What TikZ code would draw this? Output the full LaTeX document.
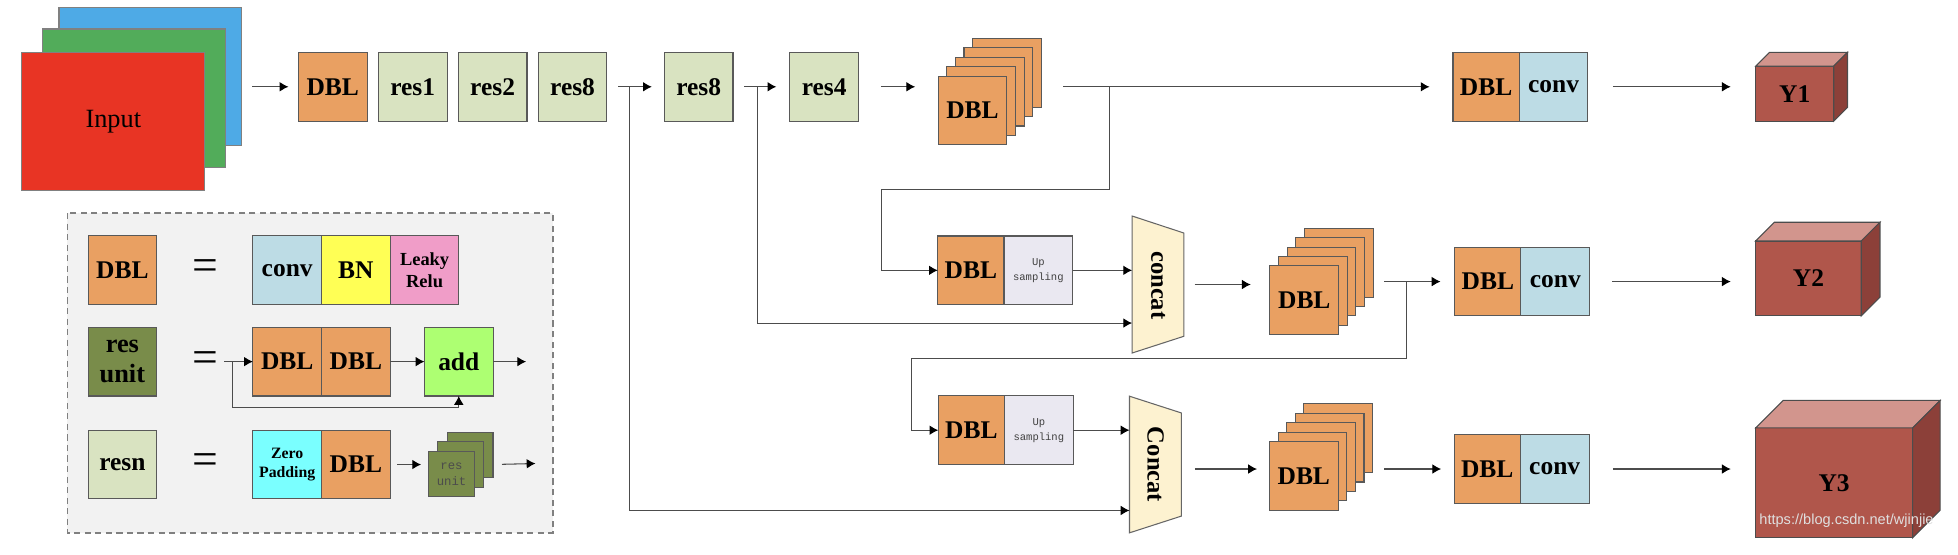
\documentclass[tikz,border=0pt]{standalone}
\usepackage{fontspec}
\setmainfont{Liberation Serif}
\newfontfamily\monof{Liberation Mono}
\newfontfamily\sansf{Liberation Sans}
\usepackage{tikz}
\usepackage{xcolor}
\usetikzlibrary{arrows.meta, calc, positioning}
\definecolor{cdbl}{RGB}{233,160,98}
\definecolor{cres}{RGB}{217,227,193}
\definecolor{cconv}{RGB}{189,220,229}
\definecolor{cup}{RGB}{234,232,241}
\definecolor{ccat}{RGB}{253,242,208}
\definecolor{cyf}{RGB}{176,86,75}
\definecolor{cyt}{RGB}{210,149,141}
\definecolor{cys}{RGB}{140,64,57}
\definecolor{cbn}{RGB}{255,255,85}
\definecolor{crelu}{RGB}{240,157,200}
\definecolor{cresu}{RGB}{121,140,74}
\definecolor{cadd}{RGB}{173,255,114}
\definecolor{czero}{RGB}{122,255,255}
\definecolor{cbg}{RGB}{242,242,242}
\definecolor{cred}{RGB}{232,52,36}
\definecolor{cgreen}{RGB}{82,172,90}
\definecolor{cblue}{RGB}{78,170,230}
\newcommand{\bigeq}[0]{\fontsize{26}{26}\selectfont =}

\begin{document}
\begin{tikzpicture}[x=0.025cm, y=-0.025cm,
    >={Latex[length=5pt, width=5.5pt, color=black]},
    blk/.style={draw=black!65, line width=0.6pt, inner sep=0pt, outer sep=0pt, align=center,
        minimum width=1.375cm, minimum height=1.375cm, font=\bfseries\fontsize{14.5}{17}\selectfont},
    dbl/.style={blk, fill=cdbl},
    res/.style={blk, fill=cres},
    conv/.style={blk, fill=cconv},
    upsm/.style={blk, fill=cup, text=black!75, font=\monof\fontsize{6}{8.5}\selectfont},
    layer/.style={draw=black!50, line width=0.6pt, minimum width=3.6625cm, minimum height=2.7625cm},
    ybox/.style={draw=black!70, line width=0.6pt, fill=cyf, outer sep=0pt, font=\bfseries\fontsize{14.5}{17}\selectfont},
    ytop/.style={draw=black!70, line width=0.6pt, fill=cyt},
    yside/.style={draw=black!70, line width=0.6pt, fill=cys},
    cat/.style={draw=black!60, line width=0.6pt, fill=ccat},
    arr/.style={draw=black!70, line width=0.6pt, ->}]
    \useasboundingbox (0,0) rectangle (1568,443.7);

    \node[layer, fill=cblue] (0) at (120.5,61) {};
    \node[layer, fill=cgreen] (1) at (107,78.5) {};
    \node[layer, fill=cred, font=\fontsize{15}{17}\selectfont] (2) at (90.75,97.25) {Input};

    \node[dbl] (3) at (266.5,69.5) {DBL};
    \node[res] (4) at (330.5,69.5) {res1};
    \node[res] (5) at (394.5,69.5) {res2};
    \node[res] (6) at (458.5,69.5) {res8};
    \node[res] (7) at (559.5,69.5) {res8};
    \node[res] (8) at (660,69.5) {res4};
    \foreach \k in {4,...,1}
        \node[dbl] (9-\k) at (778.8+\k*6.9, 88.4-\k*7.5) {};
    \node[dbl] (9) at (778.8,88.4) {DBL};

    \node[dbl, minimum width=1.325cm] (10) at (1190.1,69.5) {DBL};
    \node[conv, right=0pt of 10] (11) {conv};
    \node[ybox, minimum width=1.5625cm, minimum height=1.1cm] (12) at (1437.25,75) {Y1};
    \draw[ytop] (12.north west) -- ++(11,-11) -- ($(12.north east)+(11,-11)$) -- (12.north east) -- cycle;
    \draw[yside] (12.north east) -- ++(11,-11) -- ($(12.south east)+(11,-11)$) -- (12.south east) -- cycle;

    \node[dbl, minimum width=1.325cm] (13) at (777.5,216.5) {DBL};
    \node[upsm, right=0pt of 13] (14) {Up\\sampling};
    \node[minimum width=1.035cm, minimum height=2.7425cm, inner sep=0pt, outer sep=0pt] (15) at (927.3,227.85) {};
    \draw[cat] (15.north west) -- ($(15.north east)+(0,13.6)$) -- ($(15.south east)+(0,-13.4)$) -- (15.south west) -- cycle;
    \node[rotate=-90, font=\bfseries\fontsize{14}{16}\selectfont] (16) at (927.5,228.5) {concat};
    \foreach \k in {4,...,1}
        \node[dbl] (17-\k) at (1044.5+\k*6.9, 240.5-\k*7.5) {};
    \node[dbl] (17) at (1044.5,240.5) {DBL};
    \node[dbl, minimum width=1.325cm] (18) at (1191.5,225.5) {DBL};
    \node[conv, right=0pt of 18] (19) {conv};
    \node[ybox, minimum width=2.1125cm, minimum height=1.5cm] (20) at (1448.25,223) {Y2};
    \draw[ytop] (20.north west) -- ++(15,-15) -- ($(20.north east)+(15,-15)$) -- (20.north east) -- cycle;
    \draw[yside] (20.north east) -- ++(15,-15) -- ($(20.south east)+(15,-15)$) -- (20.south east) -- cycle;

    \node[dbl, minimum width=1.325cm] (21) at (777.9,344.5) {DBL};
    \node[upsm, right=0pt of 21] (22) {Up\\sampling};
    \node[minimum width=1.0375cm, minimum height=2.735cm, inner sep=0pt, outer sep=0pt] (23) at (925.25,372) {};
    \draw[cat] (23.north west) -- ($(23.north east)+(0,13.4)$) -- ($(23.south east)+(0,-13.4)$) -- (23.south west) -- cycle;
    \node[rotate=-90, font=\bfseries\fontsize{14}{16}\selectfont] (24) at (925.5,372) {Concat};
    \foreach \k in {4,...,1}
        \node[dbl] (25-\k) at (1044.1+\k*6.9, 381-\k*7.5) {};
    \node[dbl] (25) at (1044.1,381) {DBL};
    \node[dbl, minimum width=1.325cm] (26) at (1191,375.6) {DBL};
    \node[conv, right=0pt of 26] (27) {conv};
    \node[ybox, minimum width=3.14cm, minimum height=2.2cm] (28) at (1468.8,386.7) {Y3};
    \draw[ytop] (28.north west) -- ++(22,-22) -- ($(28.north east)+(22,-22)$) -- (28.north east) -- cycle;
    \draw[yside] (28.north east) -- ++(22,-22) -- ($(28.south east)+(22,-22)$) -- (28.south east) -- cycle;
    \node[anchor=west, text=white!75!gray, font=\sansf\fontsize{8.3}{10}\selectfont] (29) at (1404,417) {https://blog.csdn.net/wjinjie};

    \coordinate (a) at (504,69.5);
    \coordinate (b) at (904.5,408.8);
    \coordinate (c) at (606.8,69.5);
    \coordinate (d) at (906.6,258.7);
    \coordinate (e) at (888.8,69.5);
    \coordinate (f) at (706,152);
    \coordinate (g) at (1126.4,225.5);
    \coordinate (h) at (730,287.2);

    \draw[arr, shorten <=0.2cm, shorten >=0.2cm] (0.east |- 3.west) -- (3.west);
    \draw[arr, shorten <=0.225cm, shorten >=0.25cm] (6.east) -- (7.west);
    \draw[arr] (a) |- (b);
    \draw[arr, shorten <=0.225cm, shorten >=0.27cm] (7.east) -- (8.west);
    \draw[arr] (c) |- (d);
    \draw[arr, shorten <=0.45cm, shorten >=0.46cm] (8.east) -- (9.west |- 8.east);
    \draw[arr, shorten <=0.44cm, shorten >=0.47cm] (9-4.east |- 10.west) -- (10.west);
    \draw[arr] (e) |- (f) |- (13.west);
    \draw[arr, shorten <=0.5cm, shorten >=0.5cm] (11.east) -- (12.west |- 11.east);
    \draw[arr] (14.east) -- (15.west |- 14.east);
    \draw[arr, shorten <=0.215cm, shorten >=0.385cm] (15.east) -- (17.west |- 15.east);
    \draw[arr, shorten <=0.225cm, shorten >=0.285cm] (17-4.east |- 18.west) -- (18.west);
    \draw[arr] (g) |- (h) |- (21.west);
    \draw[arr, shorten <=0.45cm, shorten >=0.5cm] (19.east) -- (20.west |- 19.east);
    \draw[arr] (22.east) -- (23.west |- 22.east);
    \draw[arr, shorten <=0.27cm, shorten >=0.25cm] (23.east |- 26.west) -- (25.west |- 26.west);
    \draw[arr, shorten <=0.23cm, shorten >=0.26cm] (25-4.east |- 26.west) -- (26.west);
    \draw[arr, shorten <=0.475cm, shorten >=0.5cm] (27.east) -- (28.west |- 27.east);

    \draw[draw=black!50, line width=0.8pt, dash pattern=on 3.5pt off 2.5pt, fill=cbg] (53.9,170.7) rectangle (442.7,426.7);
    \node[dbl] (30) at (98,216.4) {DBL};
    \node (31) at (164.4,216.4) {\bigeq};
    \node[conv] (32) at (230,216.4) {conv};
    \node[blk, fill=cbn, right=0pt of 32] (33) {BN};
    \node[blk, fill=crelu, right=0pt of 33, font=\bfseries\fontsize{10.5}{12.7}\selectfont] (34) {Leaky\\Relu};
    \node[blk, fill=cresu, font=\bfseries\fontsize{15}{17}\selectfont] (35) at (98,289.6) {res\\unit};
    \node (36) at (164.4,289.6) {\bigeq};
    \node[dbl] (37) at (230,289.6) {DBL};
    \node[dbl, right=0pt of 37] (38) {DBL};
    \node[blk, fill=cadd] (39) at (367.4,289.6) {add};
    \node[res] (40) at (98,372) {resn};
    \node (41) at (164.4,372) {\bigeq};
    \node[blk, fill=czero, font=\bfseries\fontsize{9}{11}\selectfont] (42) at (230,372) {Zero\\Padding};
    \node[dbl, right=0pt of 42] (43) {DBL};
    \foreach \k in {2,1}
        \node[blk, fill=cresu, minimum width=0.92cm, minimum height=0.915cm] (44-\k) at (361.6+\k*7.4, 379.6-\k*7.6) {};
    \node[blk, fill=cresu, minimum width=0.92cm, minimum height=0.915cm, text=black!70, font=\monof\fontsize{7}{9}\selectfont] (44) at (361.6,379.6) {res\\unit};

    \coordinate (i) at (179.5,289.6);
    \coordinate (j) at (185.9,289.6);
    \coordinate (k) at (367.4,326.7);
    \coordinate (l) at (421.3,289.6);
    \coordinate (m) at (428.8,371.2);
    \draw[arr] (i) -- (37.west);
    \draw[arr] (j) |- (k) -- (39.south);
    \draw[arr] (38.east) -- (39.west);
    \draw[arr] (39.east) -- (l);
    \draw[arr, shorten <=0.135cm, shorten >=0.15cm] (43.east) -- (44.west |- 43.east);
    \draw[arr, shorten <=0.18cm] (44-2.east |- 43.east) -- (m);
\end{tikzpicture}
\end{document}
